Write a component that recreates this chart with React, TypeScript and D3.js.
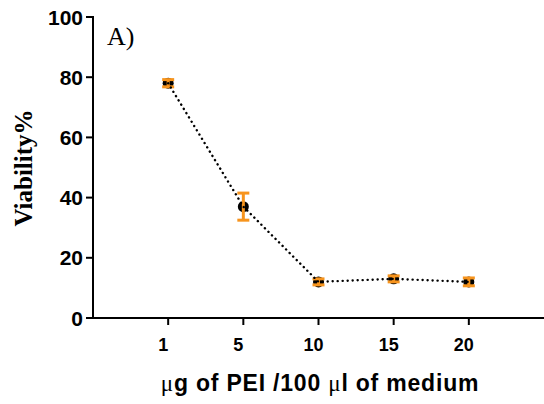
import React from "react";
import * as d3 from "d3";

const categories = ["1", "5", "10", "15", "20"];
const viability = [78, 37, 12, 13, 12];
const errors = [1.2, 4.5, 1, 1, 1.3];
const yTicks = [0, 20, 40, 60, 80, 100];

export default function App() {
  const W = 544, H = 404;
  const x = d3.scalePoint<string>().domain(categories).range([93, 544]).padding(1);
  const y = d3.scaleLinear().domain([0, 100]).range([318, 17]);
  const data = categories.map((c, i) => ({ c, v: viability[i], e: errors[i] }));
  const line = d3.line<any>().x(d => x(d.c)!).y(d => y(d.v));
  const orange = "#F7941D";
  const sans = "Liberation Sans, Arial, sans-serif";
  const serif = "Liberation Serif, Times New Roman, serif";
  return (
    <svg width={W} height={H} style={{ position: "absolute", left: 0, top: 0, background: "#fff" }}>
      {/* y axis */}
      <line x1={93} x2={93} y1={y(100) - 1} y2={y(0) + 1} stroke="#000" strokeWidth={2} />
      {yTicks.map(t => (
        <g key={t}>
          <line x1={86} x2={93} y1={y(t)} y2={y(t)} stroke="#000" strokeWidth={2} />
          <text x={83} y={y(t)} dy="0.36em" textAnchor="end" fontFamily={sans} fontWeight="bold" fontSize={21}>{t}</text>
        </g>
      ))}
      {/* x axis */}
      <line x1={92} x2={544} y1={y(0)} y2={y(0)} stroke="#000" strokeWidth={2} />
      {categories.map(c => (
        <g key={c}>
          <line x1={x(c)} x2={x(c)} y1={y(0)} y2={y(0) + 7} stroke="#000" strokeWidth={2} />
          <text x={x(c)! - 5} y={351} textAnchor="middle" fontFamily={sans} fontWeight="bold" fontSize={18}>{c}</text>
        </g>
      ))}
      <text x={320} y={391} textAnchor="middle" fontFamily={sans} fontWeight="bold" fontSize={23} letterSpacing={0.8}>
        <tspan fontFamily={serif} fontWeight="normal">μ</tspan>g of PEI /100 <tspan fontFamily={serif} fontWeight="normal">μ</tspan>l of medium
      </text>
      <text transform="translate(32,168) rotate(-90)" textAnchor="middle" fontFamily={serif} fontWeight="bold" fontSize={25}>Viability%</text>
      <text x={107} y={45} fontFamily={serif} fontSize={26}>A)</text>
      {/* points */}
      {data.map(d => (
        <circle key={"c" + d.c} cx={x(d.c)} cy={y(d.v)} r={5.5} fill="#000" />
      ))}
      {/* error bars */}
      {data.map(d => (
        <g key={"e" + d.c} stroke={orange} strokeWidth={3}>
          <line x1={x(d.c)} x2={x(d.c)} y1={y(d.v + d.e)} y2={y(d.v - d.e)} />
          <line x1={x(d.c)! - 6} x2={x(d.c)! + 6} y1={y(d.v + d.e)} y2={y(d.v + d.e)} />
          <line x1={x(d.c)! - 6} x2={x(d.c)! + 6} y1={y(d.v - d.e)} y2={y(d.v - d.e)} />
        </g>
      ))}
      <path d={line(data) || ""} fill="none" stroke="#000" strokeWidth={2.4} strokeDasharray="0.1,4.9" strokeLinecap="round" />
    </svg>
  );
}
